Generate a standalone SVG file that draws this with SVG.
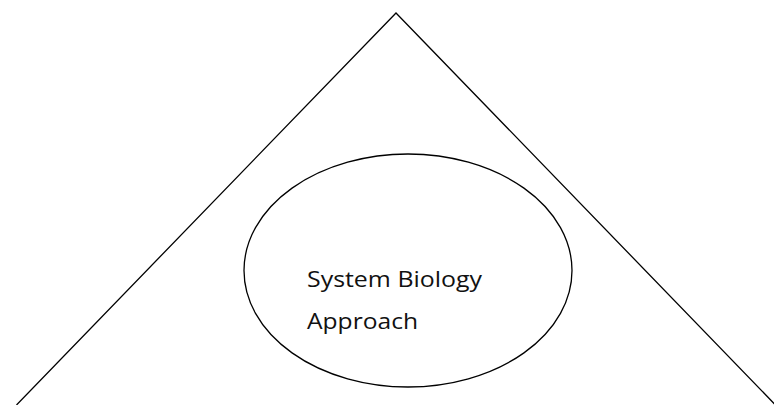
<svg xmlns="http://www.w3.org/2000/svg" width="774" height="405" viewBox="0 0 774 405">
  <style>
    .stroke { fill: none; stroke: #000; stroke-width: 1.3; }
    .label { font-family: "Open Sans", "Noto Sans", "Liberation Sans", sans-serif; font-size: 22px; fill: #111; }
  </style>
  <rect width="774" height="405" fill="#fff"/>
  <g id="connectors">
    <!-- two sides of the open triangle meeting at the apex -->
    <polyline class="stroke" points="16.5,405 396,13 775.5,405"/>
  </g>
  <g id="systems-biology">
    <ellipse class="stroke" cx="408" cy="270.5" rx="164" ry="116.5"/>
    <text class="label" x="307" y="287" textLength="175" lengthAdjust="spacingAndGlyphs">System Biology</text>
    <text class="label" x="307" y="329" textLength="111" lengthAdjust="spacingAndGlyphs">Approach</text>
  </g>
</svg>
